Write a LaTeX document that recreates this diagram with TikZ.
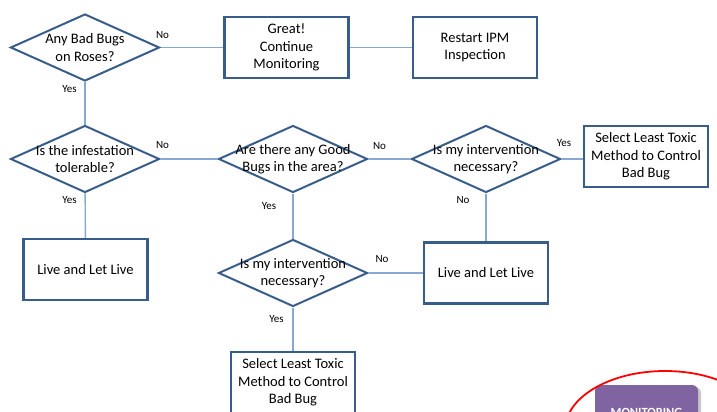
\documentclass[tikz,border=0pt]{standalone}
\usepackage{fontspec}
\setmainfont{Carlito}
\usepackage{tikz}
\usetikzlibrary{shapes,positioning,shadows}
\definecolor{ipmedge}{RGB}{56,93,138}
\definecolor{ipmlink}{RGB}{135,168,210}
\definecolor{ipmpurple}{RGB}{128,100,162}

\begin{document}
\begin{tikzpicture}[x=1pt,y=-1pt]
            \tikzstyle{every node}=[font=\fontsize{14.5}{17.5}\selectfont]
            \tikzstyle{question}=[diamond, draw=ipmedge, line width=2pt, minimum width=149pt, minimum height=67pt, inner sep=0pt]
            \tikzstyle{action}=[rectangle, draw=ipmedge, line width=2.2pt, minimum width=124pt, minimum height=61pt, align=center, inner sep=1pt]
            \tikzstyle{link}=[draw=ipmlink, line width=1.4pt]
            \tikzstyle{lab}=[font=\fontsize{11}{12}\selectfont, inner sep=1pt]
            \useasboundingbox (0,0) rectangle (717,412);
            \clip (0,0) rectangle (717,412);

            % first row
            \node[question, label={[align=center]center:Any Bad Bugs\\on Roses?}] (bad) at (85,47.5) {};
            \node[action] (great) at (286.5,47.5) {Great!\\Continue\\Monitoring};
            \node[action] (restart) at (475,47.5) {Restart IPM\\Inspection};

            % second row
            \node[question, label={[align=center]center:Is the infestation\\tolerable?}] (tolerable) at (85,159) {};
            \node[question, label={[align=center]center:Are there any Good\\Bugs in the area?}] (good) at (293,159) {};
            \node[question, label={[align=center]center:Is my intervention\\necessary?}] (needA) at (486,159) {};
            \node[action] (toxicA) at (646,156.5) {Select Least Toxic\\Method to Control\\Bad Bug};

            % third and fourth row
            \node[action] (liveA) at (85.5,269.5) {Live and Let Live};
            \node[question, label={[align=center]center:Is my intervention\\necessary?}] (needB) at (293,273) {};
            \node[action] (liveB) at (486,273) {Live and Let Live};
            \node[action] (toxicB) at (293,382.5) {Select Least Toxic\\Method to Control\\Bad Bug};

            \draw[link] (bad) -- (great);
            \draw[link] (great) -- (restart);
            \draw[link] (bad) -- (tolerable);
            \draw[link] (tolerable) -- (good);
            \draw[link] (good) -- (needA);
            \draw[link] (needA.east) -- (needA.east -| toxicA.west);
            \draw[link] (tolerable) -- (liveA);
            \draw[link] (needA) -- (liveB);
            \draw[link] (good) -- (needB);
            \draw[link] (needB) -- (liveB);
            \draw[link] (needB) -- (toxicB);

            \node[lab] (noBad) at (162.5,35) {No};
            \node[lab] (yesBad) at (69.5,89.5) {Yes};
            \node[lab] (noTol) at (162.5,145.5) {No};
            \node[lab] (yesTol) at (69.5,200) {Yes};
            \node[lab] (noGood) at (379.5,146) {No};
            \node[lab] (yesGood) at (269,206) {Yes};
            \node[lab] (yesNeedA) at (564,143) {Yes};
            \node[lab] (noNeedA) at (463,200.5) {No};
            \node[lab] (noNeedB) at (382,259) {No};
            \node[lab] (yesNeedB) at (276.5,319) {Yes};

            % corner of the next slide
            \node[fill=ipmpurple, rounded corners=6pt, minimum width=103pt, minimum height=55pt,
                  drop shadow={shadow xshift=3pt, shadow yshift=-2pt, opacity=0.45},
                  font=\fontsize{12.5}{13}\selectfont\bfseries, text=white] (monitor) at (646.5,412.5) {MONITORING};
            \draw[red, line width=1.8pt] (665,430) ellipse [x radius=100, y radius=59];
\end{tikzpicture}
\end{document}
